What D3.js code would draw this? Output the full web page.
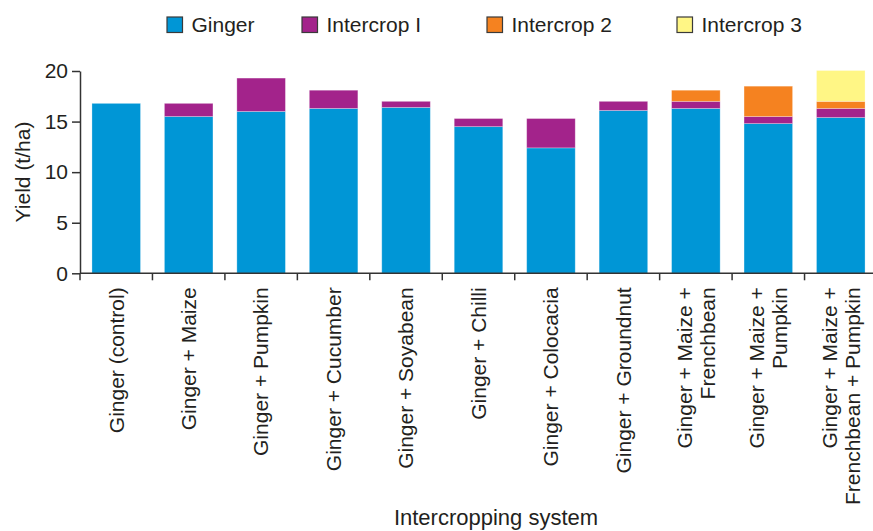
<!DOCTYPE html>
<html>
<head>
<meta charset="utf-8">
<script src="https://cdn.jsdelivr.net/npm/d3@7"></script>
<style>
  body { margin: 0; background: #fff; }
  text { font-family: "Liberation Sans", Arial, Helvetica, sans-serif; fill: #231f20; }
</style>
</head>
<body>
<svg id="chart" width="873" height="531"></svg>
<script>
// data
let systems = [
    ["Ginger (control)"],
    ["Ginger + Maize"],
    ["Ginger + Pumpkin"],
    ["Ginger + Cucumber"],
    ["Ginger + Soyabean"],
    ["Ginger + Chilli"],
    ["Ginger + Colocacia"],
    ["Ginger + Groundnut"],
    ["Ginger + Maize +", "Frenchbean"],
    ["Ginger + Maize +", "Pumpkin"],
    ["Ginger + Maize +", "Frenchbean + Pumpkin"]
];
let series = ["Ginger", "Intercrop I", "Intercrop 2", "Intercrop 3"];
let ginger     = [16.8, 15.5, 16.0, 16.3, 16.4, 14.5, 12.4, 16.1, 16.3, 14.8, 15.4];
let intercrop1 = [0,    1.3,  3.3,  1.8,  0.6,  0.8,  2.9,  0.9,  0.7,  0.7,  0.9];
let intercrop2 = [0,    0,    0,    0,    0,    0,    0,    0,    1.1,  3.0,  0.7];
let intercrop3 = [0,    0,    0,    0,    0,    0,    0,    0,    0,    0,    3.05];
let yTicks = [0, 5, 10, 15, 20];
let colors = ["#0096d6", "#a3238b", "#f58220", "#fff685"];

let margin = {left: 80, top: 71, right: -4, bottom: 257.7},
    width = 873,
    height = 531;

let rows = systems.map((s, i) => ({
    key: i,
    "Ginger": ginger[i],
    "Intercrop I": intercrop1[i],
    "Intercrop 2": intercrop2[i],
    "Intercrop 3": intercrop3[i]
}));

let svg = d3.select("#chart");

let x = d3.scaleBand()
    .domain(d3.range(systems.length))
    .range([margin.left, width - margin.right])
    .paddingInner(0.33)
    .paddingOuter(0.165);

let y = d3.scaleLinear()
    .domain([0, 20])
    .range([height - margin.bottom, margin.top]);

let color = d3.scaleOrdinal().domain(series).range(colors);

let stacked = d3.stack().keys(series)(rows);

// bars
svg.append("g")
    .selectAll("g")
    .data(stacked)
    .join("g")
    .attr("fill", d => color(d.key))
    .selectAll("rect")
    .data(d => d.filter(p => p[1] - p[0] > 0))
    .join("rect")
    .attr("x", d => x(d.data.key))
    .attr("width", x.bandwidth())
    .attr("y", d => y(d[1]))
    .attr("height", d => y(d[0]) - y(d[1]))
    .attr("stroke", "#ffffff")
    .attr("stroke-opacity", 0.35)
    .attr("stroke-width", 0.8);

// y axis
let yAxis = svg.append("g")
    .attr("transform", "translate(" + margin.left + ",0)")
    .call(d3.axisLeft(y).tickValues(yTicks).tickSize(8).tickSizeOuter(0).tickPadding(4));
yAxis.selectAll("path, line").attr("stroke", "#333").attr("stroke-width", 1.5);
yAxis.selectAll("text").attr("font-size", 21).attr("fill", "#231f20")
    .style("font-family", "'Liberation Sans', Arial, sans-serif");

// x axis line and ticks at band edges
let step = x.step();
let xAxis = svg.append("g");
xAxis.append("line")
    .attr("x1", margin.left).attr("x2", width)
    .attr("y1", y(0)).attr("y2", y(0))
    .attr("stroke", "#333").attr("stroke-width", 1.5);
xAxis.selectAll("line.tick")
    .data(d3.range(systems.length + 1))
    .join("line")
    .attr("class", "tick")
    .attr("x1", k => margin.left + k * step)
    .attr("x2", k => margin.left + k * step)
    .attr("y1", y(0))
    .attr("y2", y(0) + 7)
    .attr("stroke", "#333").attr("stroke-width", 1.5);

// category labels, rotated
let lineGap = 23;
let labels = svg.append("g")
    .selectAll("text")
    .data(systems)
    .join("text")
    .attr("transform", (d, i) => "translate(" + (x(i) + x.bandwidth() / 2) + "," + (y(0) + 14) + ") rotate(-90)")
    .attr("text-anchor", "end")
    .attr("font-size", 21);
labels.selectAll("tspan")
    .data(d => d.map((t, j) => ({t: t, j: j, n: d.length})))
    .join("tspan")
    .attr("x", 0)
    .attr("y", d => (d.j - (d.n - 1) / 2) * lineGap)
    .attr("dy", "0.35em")
    .text(d => d.t);

// axis titles
svg.append("text")
    .attr("transform", "translate(30,172) rotate(-90)")
    .attr("text-anchor", "middle")
    .attr("font-size", 21)
    .text("Yield (t/ha)");

svg.append("text")
    .attr("x", 496)
    .attr("y", 525)
    .attr("text-anchor", "middle")
    .attr("font-size", 22)
    .text("Intercropping system");

// legend
let legendX = [167, 302, 487, 677];
let legend = svg.append("g")
    .selectAll("g")
    .data(series)
    .join("g")
    .attr("transform", (d, i) => "translate(" + legendX[i] + ",17)");
legend.append("rect")
    .attr("width", 15.5)
    .attr("height", 15.5)
    .attr("fill", d => color(d))
    .attr("stroke", "#3a3a3a")
    .attr("stroke-width", 1.2);
legend.append("text")
    .attr("x", 24.5)
    .attr("y", 15)
    .attr("font-size", 21)
    .text(d => d);
</script>
</body>
</html>
